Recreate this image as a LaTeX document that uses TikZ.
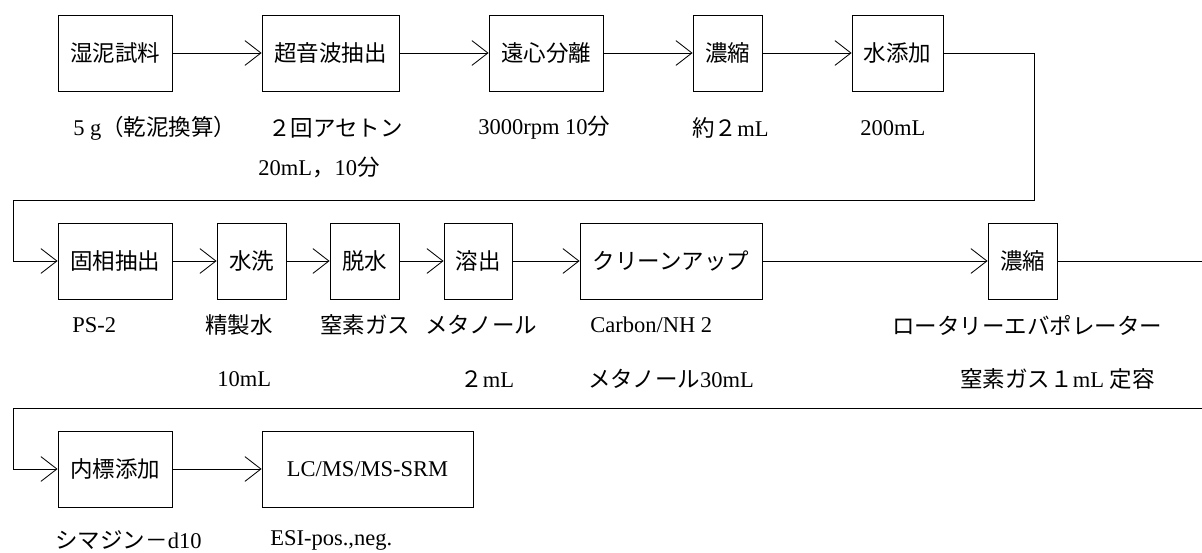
\documentclass[tikz,border=0pt]{standalone}
\usepackage{fontspec}
\setmainfont{Liberation Serif}
\newfontfamily\jpfont{Noto Sans CJK JP}
\newcommand{\jp}[1]{{\jpfont #1}}
\usetikzlibrary{arrows.meta}
\newdimen\px \px=0.025cm
\begin{document}
\begin{tikzpicture}[x=0.025cm,y=-0.025cm,
  font=\fontsize{16}{19}\selectfont,
  box/.style={draw,line width=0.6pt,minimum height=76\px,inner sep=0pt},
  flow/.style={line width=0.6pt,-{Straight Barb[length=0.4cm,width=0.62cm,line width=0.6pt]}},
  note/.style={anchor=west,inner sep=0pt}]
\useasboundingbox (0,0) rectangle (1202,552);
% row 1
\node[box,minimum width=114\px] (sample) at (115,53) {\jp{湿泥試料}};
\node[box,minimum width=137\px] (ultra) at (330.5,53) {\jp{超音波抽出}};
\node[box,minimum width=114\px] (centri) at (546,53) {\jp{遠心分離}};
\node[box,minimum width=69\px] (conc1) at (727.5,53) {\jp{濃縮}};
\node[box,minimum width=91\px] (water) at (897.5,53) {\jp{水添加}};
\node[note] (lsample) at (73,128) {5 g\jp{（乾泥換算）}};
\node[note] (lultra) at (268,128) {\jp{２回アセトン}};
\node[note] (lultrb) at (258,167) {20mL\jp{，}10\jp{分}};
\node[note] (lcentri) at (478,128) {3000rpm 10\jp{分}};
\node[note] (lconc1) at (692,128) {\jp{約２}mL};
\node[note] (lwater) at (860,128) {200mL};
% row 2
\node[box,minimum width=114\px] (spe) at (115,261) {\jp{固相抽出}};
\node[box,minimum width=69\px] (wash) at (251.5,261) {\jp{水洗}};
\node[box,minimum width=69\px] (dry) at (364.5,261) {\jp{脱水}};
\node[box,minimum width=68\px] (elute) at (478,261) {\jp{溶出}};
\node[box,minimum width=182\px] (cleanup) at (671,261) {\jp{クリーンアップ}};
\node[box,minimum width=69\px] (conc2) at (1022.5,261) {\jp{濃縮}};
\node[note] (lspe) at (72,325) {PS-2};
\node[note] (lwash) at (205,325) {\jp{精製水}};
\node[note] (lwashb) at (217,379) {10mL};
\node[note] (ldry) at (320,325) {\jp{窒素ガス}};
\node[note] (lelute) at (425,325) {\jp{メタノール}};
\node[note] (leluteb) at (460,379) {\jp{２}mL};
\node[note] (lclean) at (590,325) {Carbon/NH 2};
\node[note] (lcleanb) at (588,379) {\jp{メタノール}30mL};
\node[note] (lconc2) at (892,325) {\jp{ロータリーエバポレーター}};
\node[note] (lconc2b) at (960,379) {\jp{窒素ガス１}mL \jp{定容}};
% row 3
\node[box,minimum width=114\px] (istd) at (115,469) {\jp{内標添加}};
\node[box,minimum width=211\px] (lcms) at (367.5,469) {LC/MS/MS-SRM};
\node[note] (listd) at (55,540) {\jp{シマジン－}d10};
\node[note] (llcms) at (270,540) {ESI-pos.,neg.};
% turns
\coordinate (t1) at (1034,200);
\coordinate (t2) at (13,200);
\coordinate (t3) at (1215,408);
\coordinate (t4) at (13,408);
% connectors
\draw[flow] (sample) -- (ultra);
\draw[flow] (ultra) -- (centri);
\draw[flow] (centri) -- (conc1);
\draw[flow] (conc1) -- (water);
\draw[flow] (water) -| (t1) -- (t2) |- (spe);
\draw[flow] (spe) -- (wash);
\draw[flow] (wash) -- (dry);
\draw[flow] (dry) -- (elute);
\draw[flow] (elute) -- (cleanup);
\draw[flow] (cleanup) -- (conc2);
\draw[flow] (conc2) -| (t3) -- (t4) |- (istd);
\draw[flow] (istd) -- (lcms);
\end{tikzpicture}
\end{document}
